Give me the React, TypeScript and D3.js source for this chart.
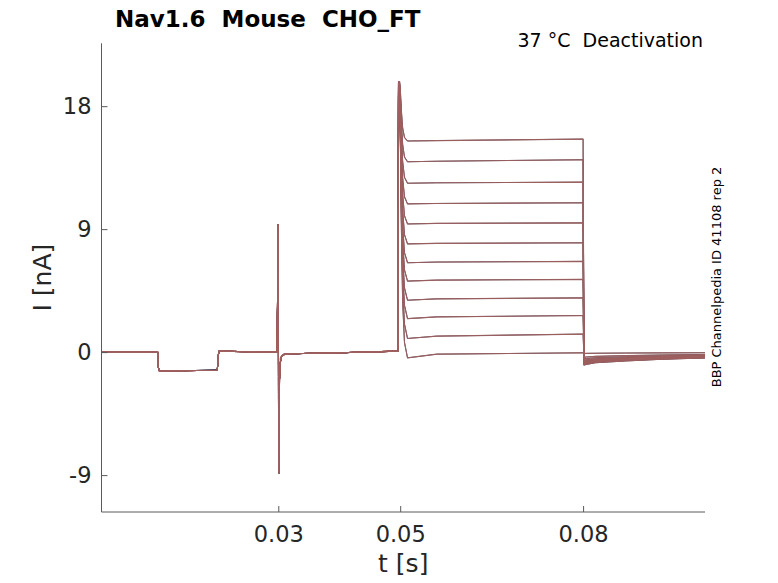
import React, { useEffect, useRef } from 'react';
import * as d3 from 'd3';

// shared part of every sweep (t in s, I in nA)
const preTimes = [0.001, 0.0102, 0.01035, 0.0105, 0.02, 0.02015, 0.0203, 0.025, 0.0298, 0.03, 0.03003, 0.03006, 0.0302, 0.0303, 0.0305, 0.0308, 0.032, 0.04, 0.04965];
const preCurrent = [0, 0, -1.15, -1.37, -1.33, -0.25, 0.07, 0.03, 0, 9.34, 0.4, -8.88, -2.0, -0.85, -0.35, -0.18, -0.12, -0.05, 0.07];

// one value per sweep, top to bottom
const sweepPeak = [19.8, 19.7, 19.6, 19.5, 19.3, 19.2, 19.0, 18.9, 18.8, 18.7, 18.5, 18.4];
const sweepLevel = [15.45, 13.93, 12.36, 10.85, 9.38, 7.92, 6.54, 5.2, 3.8, 2.45, 1.0, -0.42];
const sweepMid = [15.48, 13.97, 12.39, 10.88, 9.42, 7.96, 6.59, 5.27, 3.9, 2.58, 1.17, -0.15];
const sweepEnd = [15.59, 14.08, 12.44, 10.93, 9.46, 8.0, 6.64, 5.32, 3.97, 2.68, 1.32, -0.05];
const sweepTail = [-0.95, -0.9, -0.86, -0.82, -0.78, -0.74, -0.7, -0.65, -0.6, -0.5, -0.38, -0.1];

// decay of the transient after the step and recovery of the tail
const decayTimes = [0.0499, 0.05005, 0.0502, 0.0504, 0.0507, 0.0512];
const decayFrac = [1, 0.8, 0.5, 0.22, 0.06, 0];
const tailTimes = [0.08015, 0.0805, 0.082, 0.087, 0.093, 0.1];
const tailFrac = [1, 0.95, 0.82, 0.68, 0.55, 0.45];

const xTicks = [0.03, 0.05, 0.08];
const yTicks = [-9, 0, 9, 18];

export default function App() {
  const svgRef = useRef<SVGSVGElement>(null);

  useEffect(() => {
    if (!svgRef.current) return;
    const svg = d3.select(svgRef.current);
    svg.selectAll('*').remove();

    const left = 101.5, right = 705, top = 43.3, bottom = 512;
    const font = 'DejaVu Sans, sans-serif';

    const x = d3.scaleLinear().domain([0.001, 0.1]).range([left, right]);
    const y = d3.scaleLinear().domain([-11.7, 22.6]).range([bottom, top]);

    svg.append('defs').append('clipPath').attr('id', 'plotclip')
      .append('rect').attr('x', left).attr('y', top - 2).attr('width', right - left).attr('height', bottom - top + 2);

    const sweeps = sweepPeak.map((peak, i) => {
      const pts: [number, number][] = preTimes.map((t, k) => [t, preCurrent[k]]);
      pts.push([0.04972, peak]);
      decayTimes.forEach((t, k) => pts.push([t, sweepLevel[i] + decayFrac[k] * (peak - sweepLevel[i])]));
      pts.push([0.056, sweepMid[i]]);
      pts.push([0.08, sweepEnd[i]]);
      tailTimes.forEach((t, k) => pts.push([t, sweepTail[i] * tailFrac[k]]));
      return pts;
    });

    const line = d3.line<[number, number]>().x(d => x(d[0])).y(d => y(d[1]));
    const g = svg.append('g').attr('clip-path', 'url(#plotclip)');

    g.selectAll('.under').data(sweeps).enter().append('path')
      .attr('d', line).attr('fill', 'none').attr('stroke', '#4a4250').attr('stroke-width', 1);
    g.selectAll('.over').data(sweeps).enter().append('path')
      .attr('d', line).attr('fill', 'none').attr('stroke', '#a0605f').attr('stroke-width', 1.1).attr('opacity', 0.92);

    // axes
    const xAxis = svg.append('g').attr('transform', `translate(0,${bottom})`)
      .call(d3.axisBottom(x).tickValues(xTicks).tickFormat(d3.format('.2f')).tickSizeInner(-6).tickSizeOuter(0).tickPadding(14));
    const yAxis = svg.append('g').attr('transform', `translate(${left},0)`)
      .call(d3.axisLeft(y).tickValues(yTicks).tickFormat(d => String(d)).tickSizeInner(-6).tickSizeOuter(0).tickPadding(10));

    [xAxis, yAxis].forEach(a => {
      a.select('.domain').attr('stroke', '#5a5a5a');
      a.selectAll('.tick line').attr('stroke', '#5a5a5a');
      a.selectAll('.tick text').attr('fill', '#262626').attr('font-size', 22.5).attr('font-family', font);
    });
    yAxis.select('.domain').attr('d', `M0,${top}V${bottom}`);
    xAxis.select('.domain').attr('d', `M${left},0H${right}`);

    // labels
    svg.append('text').attr('x', (left + right) / 2).attr('y', 572).attr('text-anchor', 'middle')
      .attr('font-family', font).attr('font-size', 25).attr('fill', '#262626').text('t [s]');
    svg.append('text').attr('transform', `translate(51,${(top + bottom) / 2}) rotate(-90)`).attr('text-anchor', 'middle')
      .attr('font-family', font).attr('font-size', 25).attr('fill', '#262626').text('I [nA]');

    svg.append('text').attr('x', 115).attr('y', 27).attr('font-family', font).attr('font-size', 23)
      .attr('font-weight', 'bold').attr('fill', '#000').style('white-space', 'pre').text('Nav1.6  Mouse  CHO_FT');
    svg.append('text').attr('x', 703).attr('y', 47).attr('text-anchor', 'end').attr('font-family', font)
      .attr('font-size', 19).attr('fill', '#000').style('white-space', 'pre').text('37 °C  Deactivation');
    svg.append('text').attr('transform', 'translate(721,277) rotate(-90)').attr('text-anchor', 'middle')
      .attr('font-family', font).attr('font-size', 13).attr('fill', '#000').text('BBP Channelpedia ID 41108 rep 2');
  }, []);

  return (
    <svg ref={svgRef} width={778} height={583} viewBox="0 0 778 583"
      style={{ position: 'absolute', left: 0, top: 0, background: '#fff' }} />
  );
}
